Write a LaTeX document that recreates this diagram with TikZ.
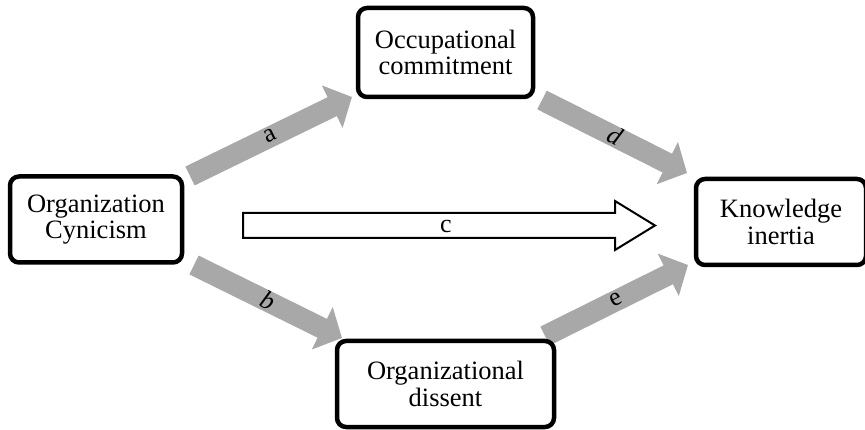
\documentclass[tikz,border=0pt]{standalone}
\usepackage{fontspec}
\setmainfont{Liberation Serif}
\usetikzlibrary{arrows.meta,calc}
\definecolor{arrowgray}{RGB}{168,168,168}
\tikzset{
  box/.style={draw=black, line width=4.5pt, rounded corners=9pt, fill=white,
    inner sep=0pt, align=center, font=\fontsize{26.5}{26.5}\selectfont},
  grayarrow/.style={draw=arrowgray, line width=21pt,
    -{Triangle[length=22pt 0 0, width=46pt 0 0]}},
  lbl/.style={font=\fontsize{26}{26}\selectfont, text=black, inner sep=0pt}
}
\begin{document}
\begin{tikzpicture}[x=1pt,y=-1pt]
\useasboundingbox (0,0) rectangle (865,430);
% connector end points
\coordinate (aT) at (190,176);  \coordinate (aH) at (352,97);
\coordinate (dT) at (542,100);  \coordinate (dH) at (687,173);
\coordinate (bT) at (194,265);  \coordinate (bH) at (342,338);
\coordinate (eT) at (545,336);  \coordinate (eH) at (688,265);
\coordinate (c0) at (243,225.5); \coordinate (c1) at (655,225.5);
% gray block arrows
\draw[grayarrow] (aT) -- (aH) node[midway, sloped, lbl, yshift=1pt] {a};
\draw[grayarrow] (bT) -- (bH) node[midway, sloped, lbl, yshift=1pt] {\itshape b};
\draw[grayarrow] (dT) -- (dH) node[midway, sloped, lbl, yshift=1pt] {\itshape d};
\draw[grayarrow] (eT) -- (eH) node[midway, sloped, lbl, yshift=1pt] {e};
% white block arrow c
\draw[line width=2pt, fill=white, line join=miter]
  ($(c0)+(0,-12.5)$) -- ($(c1)+(-40,-12.5)$) -- ($(c1)+(-40,-24.5)$) -- (c1)
  -- ($(c1)+(-40,24.5)$) -- ($(c1)+(-40,12.5)$) -- ($(c0)+(0,12.5)$) -- cycle;
\node[lbl] (clabel) at ($(c0)!0.5!(c1)+(-3,1)$) {c};
% boxes
\node[box, minimum width=172pt, minimum height=86pt] (oc) at (96,219.5) {Organization\\Cynicism};
\node[box, minimum width=175pt, minimum height=89pt] (occ) at (445.5,52.5) {Occupational\\commitment};
\node[box, minimum width=217pt, minimum height=86pt] (od) at (445.5,384) {Organizational\\dissent};
\node[box, minimum width=170pt, minimum height=86pt] (ki) at (781,222) {Knowledge\\inertia};
\end{tikzpicture}
\end{document}
